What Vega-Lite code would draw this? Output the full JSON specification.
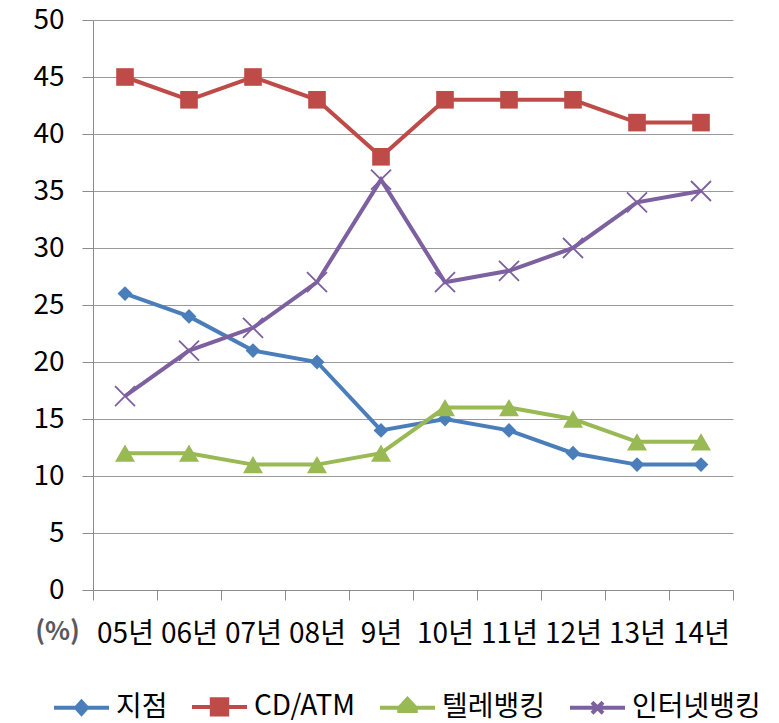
{
  "$schema": "https://vega.github.io/schema/vega-lite/v6.json",
  "autosize": "none",
  "width": 640,
  "height": 570,
  "padding": {"left": 93, "top": 20, "right": 46, "bottom": 133},
  "config": {
    "font": "Noto Sans CJK KR",
    "view": {"stroke": null}
  },
  "data": {
    "values": [
      {"year": "05년", "series": "지점", "value": 26},
      {"year": "06년", "series": "지점", "value": 24},
      {"year": "07년", "series": "지점", "value": 21},
      {"year": "08년", "series": "지점", "value": 20},
      {"year": "9년", "series": "지점", "value": 14},
      {"year": "10년", "series": "지점", "value": 15},
      {"year": "11년", "series": "지점", "value": 14},
      {"year": "12년", "series": "지점", "value": 12},
      {"year": "13년", "series": "지점", "value": 11},
      {"year": "14년", "series": "지점", "value": 11},
      {"year": "05년", "series": "CD/ATM", "value": 45},
      {"year": "06년", "series": "CD/ATM", "value": 43},
      {"year": "07년", "series": "CD/ATM", "value": 45},
      {"year": "08년", "series": "CD/ATM", "value": 43},
      {"year": "9년", "series": "CD/ATM", "value": 38},
      {"year": "10년", "series": "CD/ATM", "value": 43},
      {"year": "11년", "series": "CD/ATM", "value": 43},
      {"year": "12년", "series": "CD/ATM", "value": 43},
      {"year": "13년", "series": "CD/ATM", "value": 41},
      {"year": "14년", "series": "CD/ATM", "value": 41},
      {"year": "05년", "series": "텔레뱅킹", "value": 12},
      {"year": "06년", "series": "텔레뱅킹", "value": 12},
      {"year": "07년", "series": "텔레뱅킹", "value": 11},
      {"year": "08년", "series": "텔레뱅킹", "value": 11},
      {"year": "9년", "series": "텔레뱅킹", "value": 12},
      {"year": "10년", "series": "텔레뱅킹", "value": 16},
      {"year": "11년", "series": "텔레뱅킹", "value": 16},
      {"year": "12년", "series": "텔레뱅킹", "value": 15},
      {"year": "13년", "series": "텔레뱅킹", "value": 13},
      {"year": "14년", "series": "텔레뱅킹", "value": 13},
      {"year": "05년", "series": "인터넷뱅킹", "value": 17},
      {"year": "06년", "series": "인터넷뱅킹", "value": 21},
      {"year": "07년", "series": "인터넷뱅킹", "value": 23},
      {"year": "08년", "series": "인터넷뱅킹", "value": 27},
      {"year": "9년", "series": "인터넷뱅킹", "value": 36},
      {"year": "10년", "series": "인터넷뱅킹", "value": 27},
      {"year": "11년", "series": "인터넷뱅킹", "value": 28},
      {"year": "12년", "series": "인터넷뱅킹", "value": 30},
      {"year": "13년", "series": "인터넷뱅킹", "value": 34},
      {"year": "14년", "series": "인터넷뱅킹", "value": 35}
    ]
  },
  "encoding": {
    "x": {
      "field": "year",
      "type": "nominal",
      "sort": null,
      "scale": {"type": "band", "paddingInner": 0, "paddingOuter": 0},
      "axis": {
        "title": null,
        "labelAngle": 0,
        "labelFontSize": 28,
        "labelColor": "#000000",
        "labelPadding": 20,
        "tickBand": "extent",
        "tickSize": 10,
        "tickColor": "#8c8c8c",
        "domainColor": "#8c8c8c",
        "labelOverlap": false
      }
    },
    "y": {
      "field": "value",
      "type": "quantitative",
      "scale": {"domain": [0, 50], "nice": false},
      "axis": {
        "values": [0, 5, 10, 15, 20, 25, 30, 35, 40, 45, 50],
        "title": "(%)",
        "titleAngle": 0,
        "titleX": -36,
        "titleY": 598,
        "titleAlign": "center",
        "titleBaseline": "top",
        "titleFontSize": 26,
        "titleFontWeight": "bold",
        "titleColor": "#595959",
        "labelFontSize": 28,
        "labelColor": "#000000",
        "labelPadding": 18,
        "tickSize": 11,
        "tickColor": "#8c8c8c",
        "domainColor": "#8c8c8c",
        "gridColor": "#999999",
        "grid": true
      }
    }
  },
  "layer": [
    {
      "mark": {"type": "line", "strokeWidth": 4},
      "encoding": {
        "color": {
          "field": "series",
          "type": "nominal",
          "scale": {
            "domain": ["지점", "CD/ATM", "텔레뱅킹", "인터넷뱅킹"],
            "range": ["#4A7EBB", "#BE4B48", "#98B954", "#7D60A0"]
          },
          "legend": {
            "title": null,
            "orient": "none",
            "legendX": -41,
            "legendY": 657,
            "direction": "horizontal",
            "labelFontSize": 28,
            "labelColor": "#000000",
            "labelOffset": 5,
            "columnPadding": 16,
            "symbolSize": 3025,
            "symbolStrokeWidth": 4,
            "encode": {
              "symbols": {
                "update": {
                  "shape": {"signal": "datum.value === '지점' ? 'M-1,0H-0.2L0,-0.22L0.2,0L0,0.22L-0.2,0M0.2,0H1' : datum.value === 'CD/ATM' ? 'M-1,0H-0.28V-0.28H0.28V0H1H0.28V0.28H-0.28V0Z' : datum.value === '텔레뱅킹' ? 'M-1,0H-0.3L0,-0.32L0.3,0H1H0.3V0.12H-0.3V0Z' : 'M-1,0H1M-0.2,-0.2L0.2,0.2M-0.2,0.2L0.2,-0.2'"},
                  "fill": {"scale": "color", "field": "value"}
                }
              }
            }
          }
        }
      }
    },
    {
      "transform": [{"filter": "datum.series !== '인터넷뱅킹'"}],
      "mark": {"type": "point", "filled": true, "opacity": 1},
      "encoding": {
        "color": {"field": "series", "type": "nominal", "legend": null},
        "shape": {
          "field": "series",
          "type": "nominal",
          "scale": {
            "domain": ["지점", "CD/ATM", "텔레뱅킹"],
            "range": ["diamond", "square", "triangle-up"]
          },
          "legend": null
        },
        "size": {
          "field": "series",
          "type": "nominal",
          "scale": {
            "domain": ["지점", "CD/ATM", "텔레뱅킹"],
            "range": [220, 400, 400]
          },
          "legend": null
        }
      }
    },
    {
      "transform": [{"filter": "datum.series === '인터넷뱅킹'"}],
      "mark": {"type": "point", "filled": false, "shape": "M-1,-1L1,1M-1,1L1,-1", "size": 400, "strokeWidth": 1.8, "opacity": 1},
      "encoding": {
        "color": {"field": "series", "type": "nominal", "legend": null}
      }
    }
  ]
}
